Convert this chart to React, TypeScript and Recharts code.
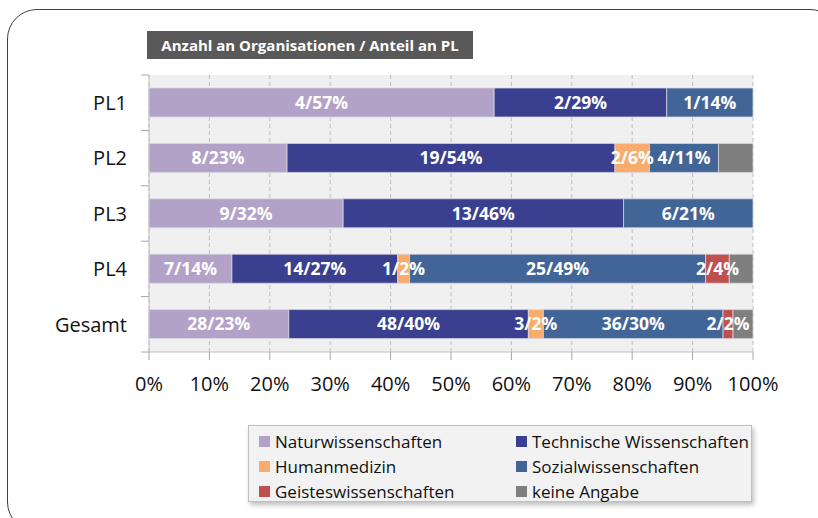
import React from 'react';
import { BarChart, Bar, XAxis, YAxis, CartesianGrid, LabelList } from 'recharts';

const categories = ['PL1', 'PL2', 'PL3', 'PL4', 'Gesamt'];

// counts per field
const natur = [4, 8, 9, 7, 28];
const technik = [2, 19, 13, 14, 48];
const human = [0, 2, 0, 1, 3];
const sozial = [1, 4, 6, 25, 36];
const geistes = [0, 0, 0, 2, 2];
const keine = [0, 2, 0, 2, 4];

// share of PL in percent, as printed on the bars
const naturPct = [57, 23, 32, 14, 23];
const technikPct = [29, 54, 46, 27, 40];
const humanPct = [0, 6, 0, 2, 2];
const sozialPct = [14, 11, 21, 49, 30];
const geistesPct = [0, 0, 0, 4, 2];

const xTicks = [0, 0.1, 0.2, 0.3, 0.4, 0.5, 0.6, 0.7, 0.8, 0.9, 1];

const series = [
  { key: 'natur', name: 'Naturwissenschaften', color: '#B3A2C7', counts: natur, pct: naturPct },
  { key: 'technik', name: 'Technische Wissenschaften', color: '#3B3F8F', counts: technik, pct: technikPct },
  { key: 'human', name: 'Humanmedizin', color: '#F9AC6D', counts: human, pct: humanPct },
  { key: 'sozial', name: 'Sozialwissenschaften', color: '#426598', counts: sozial, pct: sozialPct },
  { key: 'geistes', name: 'Geisteswissenschaften', color: '#C0504D', counts: geistes, pct: geistesPct },
  { key: 'keine', name: 'keine Angabe', color: '#7F7F7F', counts: keine, pct: null },
];

const data = categories.map((name, i) => {
  const row: Record<string, any> = { name };
  series.forEach(s => {
    row[s.key] = s.counts[i];
  });
  return row;
});

const FONT = '"Open Sans", "Noto Sans", sans-serif';
const PLOT_TOP = 75;
const PLOT_BOTTOM = 352;
const PLOT_LEFT = 149;
const BAND = (PLOT_BOTTOM - PLOT_TOP) / categories.length;

const CategoryTick = (props: any) => {
  const { y, payload } = props;
  const idx = payload.index;
  return (
    <g>
      <text x={PLOT_LEFT - 22} y={y} dy="0.36em" textAnchor="end" fontSize={20} fill="#111" fontFamily={FONT}>
        {payload.value}
      </text>
      <line x1={PLOT_LEFT - 8} x2={PLOT_LEFT} y1={y - BAND / 2} y2={y - BAND / 2} stroke="#A6A6A6" />
      {idx === categories.length - 1 && (
        <line x1={PLOT_LEFT - 8} x2={PLOT_LEFT} y1={y + BAND / 2} y2={y + BAND / 2} stroke="#A6A6A6" />
      )}
    </g>
  );
};

const labelText = (counts: number[], pct: number[]) => (entry: any) => {
  const name = entry?.payload?.name ?? entry?.name;
  const i = categories.indexOf(name);
  if (i < 0 || !counts[i]) return '';
  return `${counts[i]}/${pct[i]}%`;
};

const BarLabel = (props: any) => {
  const { x, y, width, height, value } = props;
  if (!value) return null;
  return (
    <text
      x={x + width / 2}
      y={y + height / 2}
      dy="0.36em"
      textAnchor="middle"
      fill="#fff"
      fontSize={17.5}
      fontWeight="bold"
      fontFamily={FONT}
    >
      {value}
    </text>
  );
};

export default function App() {
  return (
    <div style={{ position: 'absolute', left: 0, top: 0, width: 818, height: 518, overflow: 'hidden', background: '#fff' }}>
      <div
        style={{
          position: 'absolute',
          left: 7,
          top: 9,
          width: 831,
          height: 521,
          border: '1.5px solid #404040',
          borderRadius: 30,
        }}
      />
      <div
        style={{
          position: 'absolute',
          left: 147,
          top: 31,
          width: 326,
          height: 28,
          background: '#595959',
          color: '#fff',
          fontFamily: FONT,
          fontWeight: 'bold',
          fontSize: 15,
          lineHeight: '28px',
          textAlign: 'center',
          whiteSpace: 'nowrap',
        }}
      >
        Anzahl an Organisationen / Anteil an PL
      </div>
      <div style={{ position: 'absolute', left: 0, top: 0 }}>
        <BarChart
          width={818}
          height={518}
          data={data}
          layout="vertical"
          stackOffset="expand"
          barSize={29}
          margin={{ top: PLOT_TOP, right: 818 - 753, bottom: 518 - PLOT_BOTTOM - 40, left: PLOT_LEFT - 100 }}
        >
          <CartesianGrid horizontal={false} fill="#F0F0F0" stroke="#BFBFBF" strokeDasharray="4 3" />
          <XAxis
            type="number"
            domain={[0, 1]}
            ticks={xTicks}
            tickFormatter={(v: number) => `${Math.round(v * 100)}%`}
            tick={{ fontSize: 20, fill: '#111', fontFamily: FONT }}
            tickSize={8}
            tickMargin={17}
            height={40}
            axisLine={{ stroke: '#BFBFBF' }}
            tickLine={{ stroke: '#A6A6A6' }}
          />
          <YAxis
            type="category"
            dataKey="name"
            width={100}
            tick={<CategoryTick />}
            tickLine={false}
            axisLine={{ stroke: '#BFBFBF' }}
            interval={0}
          />
          {series.map(s => (
            <Bar
              key={s.key}
              dataKey={s.key}
              name={s.name}
              stackId="a"
              fill={s.color}
              stroke="#D9D9E3"
              strokeWidth={0.75}
              isAnimationActive={false}
            >
              {s.pct && (
                <LabelList valueAccessor={labelText(s.counts, s.pct)} content={<BarLabel />} />
              )}
            </Bar>
          ))}
        </BarChart>
      </div>
      <div
        style={{
          position: 'absolute',
          left: 248,
          top: 425,
          width: 502,
          height: 75,
          background: '#F2F2F2',
          border: '1px solid #BFBFBF',
          boxShadow: '2px 3px 5px rgba(0,0,0,0.25)',
          fontFamily: FONT,
          fontSize: 17,
          color: '#111',
        }}
      >
        {series.map((s, i) => (
          <div
            key={s.key}
            style={{
              position: 'absolute',
              left: i % 2 === 0 ? 10 : 267,
              top: 3 + Math.floor(i / 2) * 25,
              height: 25,
              display: 'flex',
              alignItems: 'center',
              whiteSpace: 'nowrap',
            }}
          >
            <span style={{ display: 'inline-block', width: 11, height: 11, background: s.color, marginRight: 5 }} />
            {s.name}
          </div>
        ))}
      </div>
    </div>
  );
}
